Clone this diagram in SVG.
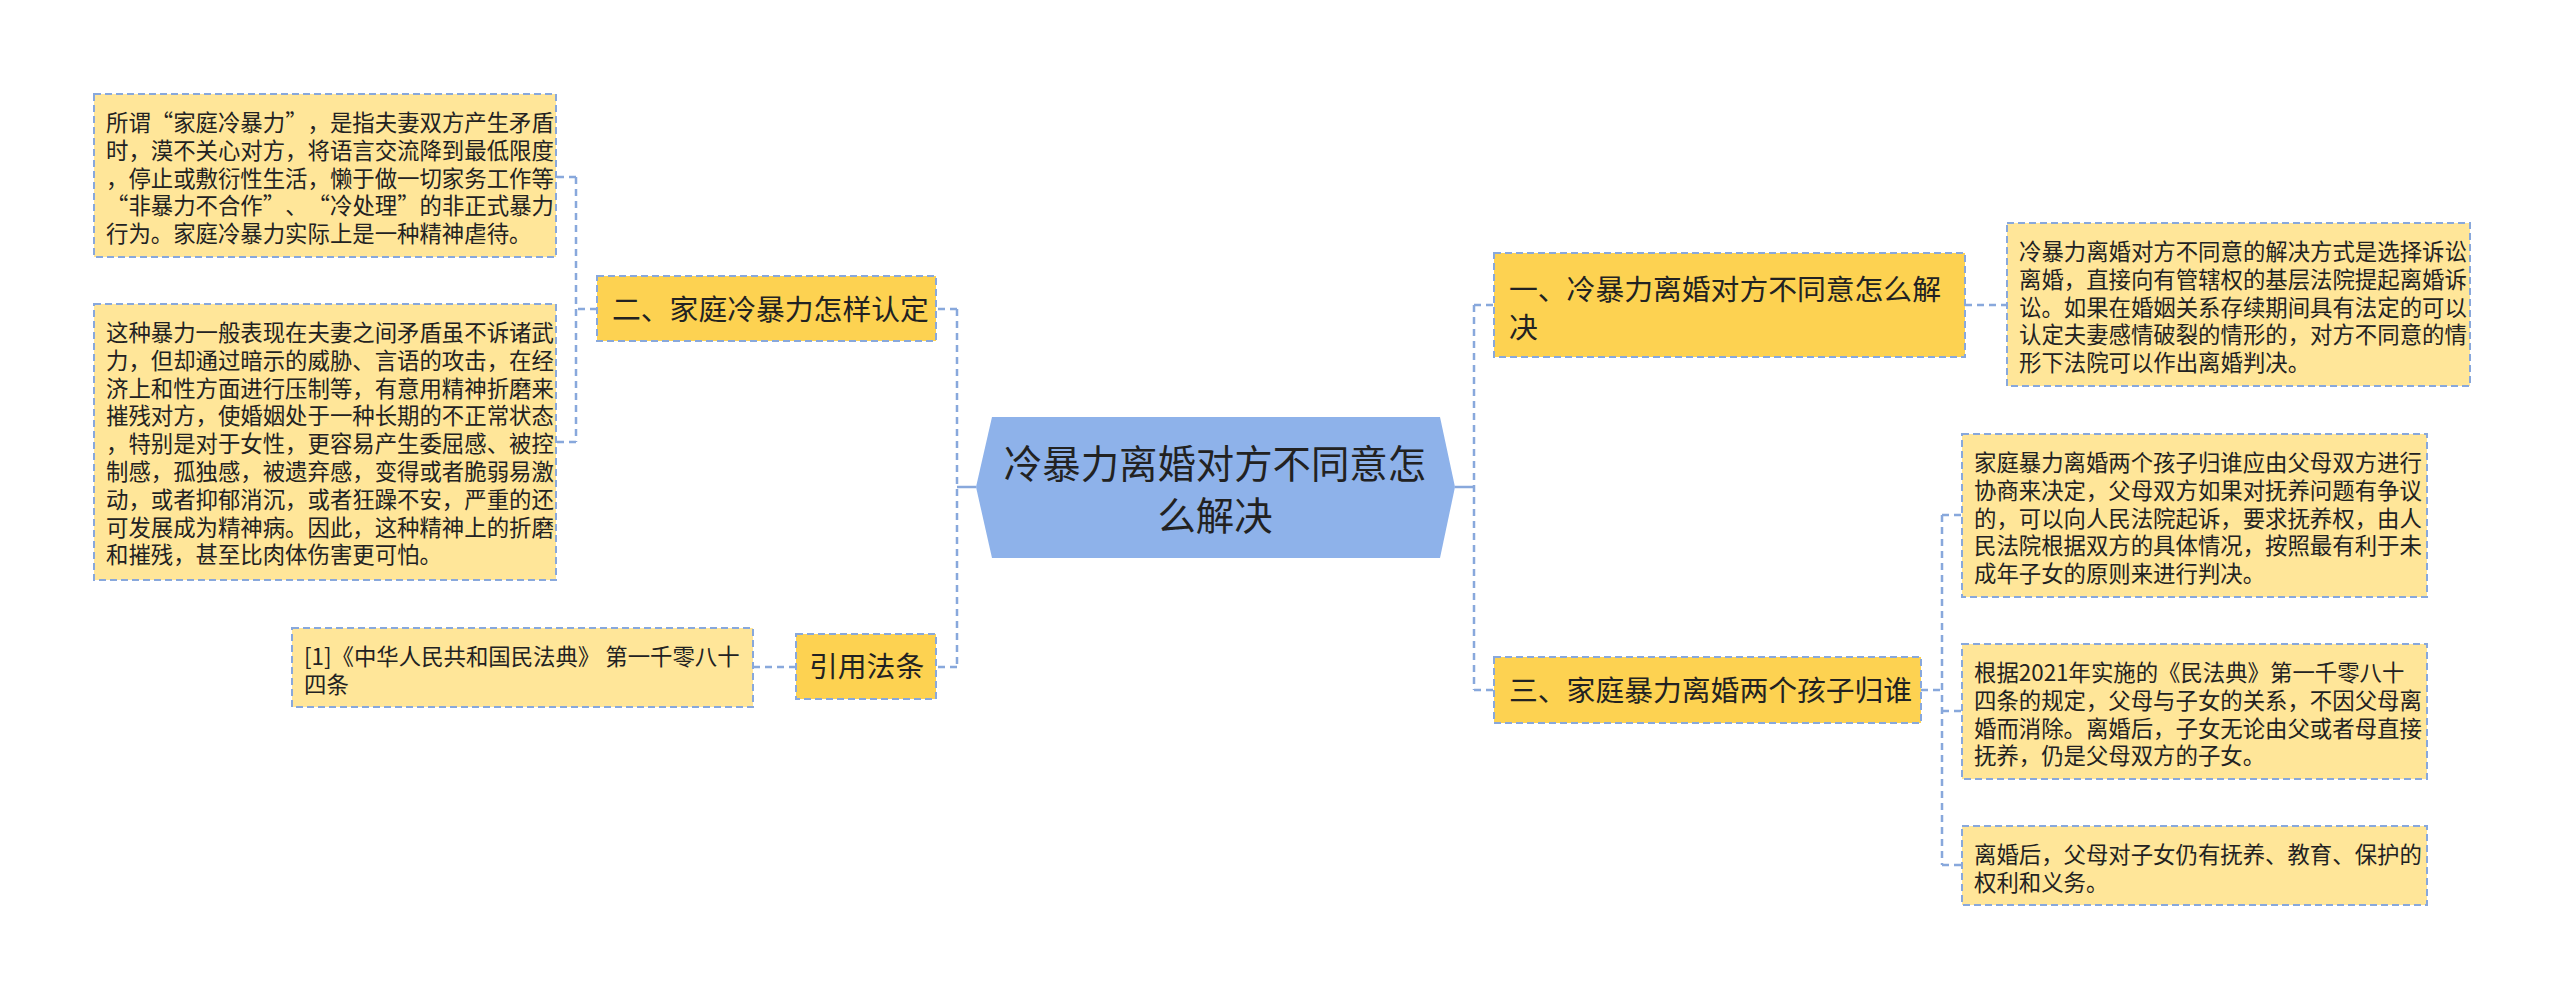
<svg xmlns="http://www.w3.org/2000/svg" width="2560" height="999" viewBox="0 0 2560 999">
<style>
.bg{fill:#ffffff}
.detail{fill:#FFE699;stroke:#88A8DC;stroke-width:2;stroke-dasharray:7 4}
.l1{fill:#FDD251;stroke:#88A8DC;stroke-width:2;stroke-dasharray:7 4}
.root{fill:#8EB2EA}
.conn{fill:none;stroke:#88A8DC;stroke-width:2.5;stroke-dasharray:7 5}
.solid{fill:none;stroke:#88A8DC;stroke-width:2.5}
text{font-family:"Noto Sans CJK SC","Noto Sans CJK TC",sans-serif;fill:#222222}
.t14{font-size:22.4px}
.t18{font-size:28.8px}
.t24{font-size:38.4px}
.oq{text-anchor:end}
</style>
<rect class="bg" x="0" y="0" width="2560" height="999"/>
<g id="connectors">
  <line class="solid" x1="976" y1="487" x2="957" y2="487"/>
  <path class="conn" d="M957,309 V667"/>
  <path class="conn" d="M957,309 H936"/>
  <path class="conn" d="M957,667 H936"/>
  <path class="conn" d="M597,309 H576"/>
  <path class="conn" d="M576,177 V442"/>
  <path class="conn" d="M576,177 H556"/>
  <path class="conn" d="M576,442 H556"/>
  <path class="conn" d="M796,667 H753"/>
  <line class="solid" x1="1455" y1="487" x2="1474" y2="487"/>
  <path class="conn" d="M1474,305 V690"/>
  <path class="conn" d="M1474,305 H1494"/>
  <path class="conn" d="M1474,690 H1494"/>
  <path class="conn" d="M1965,305 H2007"/>
  <path class="conn" d="M1921,690 H1942"/>
  <path class="conn" d="M1942,515 V865"/>
  <path class="conn" d="M1942,515 H1962"/>
  <path class="conn" d="M1942,711 H1962"/>
  <path class="conn" d="M1942,865 H1962"/>
</g>
<g id="root">
  <polygon class="root" points="976,487 992,417 1440,417 1455,487 1440,558 992,558"/>
  <text class="t24" text-anchor="middle"><tspan x="1215" y="478">冷暴力离婚对方不同意怎</tspan><tspan x="1215" y="530">么解决</tspan></text>
</g>
<g id="n2">
  <rect class="l1" x="597" y="276" width="339" height="65"/>
  <text class="t18" x="612" y="320">二、家庭冷暴力怎样认定</text>
</g>
<g id="n2a">
  <rect class="detail" x="94" y="94" width="462" height="163"/>
  <text class="t14"><tspan x="106" y="131">所谓</tspan><tspan x="173.2" y="131">家庭冷暴力</tspan><tspan x="285.2" y="131">”</tspan><tspan x="307.6" y="131">，是指夫妻双方产生矛盾</tspan><tspan x="106" y="158.8">时，漠不关心对方，将语言交流降到最低限度</tspan><tspan x="106" y="186.6">，停止或敷衍性生活，懒于做一切家务工作等</tspan><tspan x="128.4" y="214.4">非暴力不合作</tspan><tspan x="262.8" y="214.4">”</tspan><tspan x="285.2" y="214.4">、</tspan><tspan x="330" y="214.4">冷处理</tspan><tspan x="397.2" y="214.4">”</tspan><tspan x="419.6" y="214.4">的非正式暴力</tspan><tspan x="106" y="242.2">行为。家庭冷暴力实际上是一种精神虐待。</tspan></text>
  <text class="t14 oq" x="173.2" y="131">“</text>
  <text class="t14 oq" x="128.4" y="214.4">“</text>
  <text class="t14 oq" x="330" y="214.4">“</text>
</g>
<g id="n2b">
  <rect class="detail" x="94" y="304" width="462" height="276"/>
  <text class="t14"><tspan x="106" y="341">这种暴力一般表现在夫妻之间矛盾虽不诉诸武</tspan><tspan x="106" y="368.8">力，但却通过暗示的威胁、言语的攻击，在经</tspan><tspan x="106" y="396.6">济上和性方面进行压制等，有意用精神折磨来</tspan><tspan x="106" y="424.4">摧残对方，使婚姻处于一种长期的不正常状态</tspan><tspan x="106" y="452.2">，特别是对于女性，更容易产生委屈感、被控</tspan><tspan x="106" y="480">制感，孤独感，被遗弃感，变得或者脆弱易激</tspan><tspan x="106" y="507.8">动，或者抑郁消沉，或者狂躁不安，严重的还</tspan><tspan x="106" y="535.6">可发展成为精神病。因此，这种精神上的折磨</tspan><tspan x="106" y="563.4">和摧残，甚至比肉体伤害更可怕。</tspan></text>
</g>
<g id="n4">
  <rect class="l1" x="796" y="634" width="140" height="65"/>
  <text class="t18" x="809" y="677">引用法条</text>
</g>
<g id="n4a">
  <rect class="detail" x="292" y="628" width="461" height="79"/>
  <text class="t14"><tspan x="304" y="665">[1]《中华人民共和国民法典》 第一千零八十</tspan><tspan x="304" y="692.8">四条</tspan></text>
</g>
<g id="n1">
  <rect class="l1" x="1494" y="253" width="471" height="104"/>
  <text class="t18"><tspan x="1509" y="300">一、冷暴力离婚对方不同意怎么解</tspan><tspan x="1509" y="338">决</tspan></text>
</g>
<g id="n1a">
  <rect class="detail" x="2007" y="223" width="463" height="163"/>
  <text class="t14"><tspan x="2019" y="260">冷暴力离婚对方不同意的解决方式是选择诉讼</tspan><tspan x="2019" y="287.8">离婚，直接向有管辖权的基层法院提起离婚诉</tspan><tspan x="2019" y="315.6">讼。如果在婚姻关系存续期间具有法定的可以</tspan><tspan x="2019" y="343.4">认定夫妻感情破裂的情形的，对方不同意的情</tspan><tspan x="2019" y="371.2">形下法院可以作出离婚判决。</tspan></text>
</g>
<g id="n3">
  <rect class="l1" x="1494" y="657" width="427" height="66"/>
  <text class="t18" x="1509" y="701">三、家庭暴力离婚两个孩子归谁</text>
</g>
<g id="n3a">
  <rect class="detail" x="1962" y="434" width="465" height="163"/>
  <text class="t14"><tspan x="1974" y="471">家庭暴力离婚两个孩子归谁应由父母双方进行</tspan><tspan x="1974" y="498.8">协商来决定，父母双方如果对抚养问题有争议</tspan><tspan x="1974" y="526.6">的，可以向人民法院起诉，要求抚养权，由人</tspan><tspan x="1974" y="554.4">民法院根据双方的具体情况，按照最有利于未</tspan><tspan x="1974" y="582.2">成年子女的原则来进行判决。</tspan></text>
</g>
<g id="n3b">
  <rect class="detail" x="1962" y="644" width="465" height="135"/>
  <text class="t14"><tspan x="1974" y="681">根据2021年实施的《民法典》第一千零八十</tspan><tspan x="1974" y="708.8">四条的规定，父母与子女的关系，不因父母离</tspan><tspan x="1974" y="736.6">婚而消除。离婚后，子女无论由父或者母直接</tspan><tspan x="1974" y="764.4">抚养，仍是父母双方的子女。</tspan></text>
</g>
<g id="n3c">
  <rect class="detail" x="1962" y="826" width="465" height="79"/>
  <text class="t14"><tspan x="1974" y="863">离婚后，父母对子女仍有抚养、教育、保护的</tspan><tspan x="1974" y="890.8">权利和义务。</tspan></text>
</g>
</svg>
